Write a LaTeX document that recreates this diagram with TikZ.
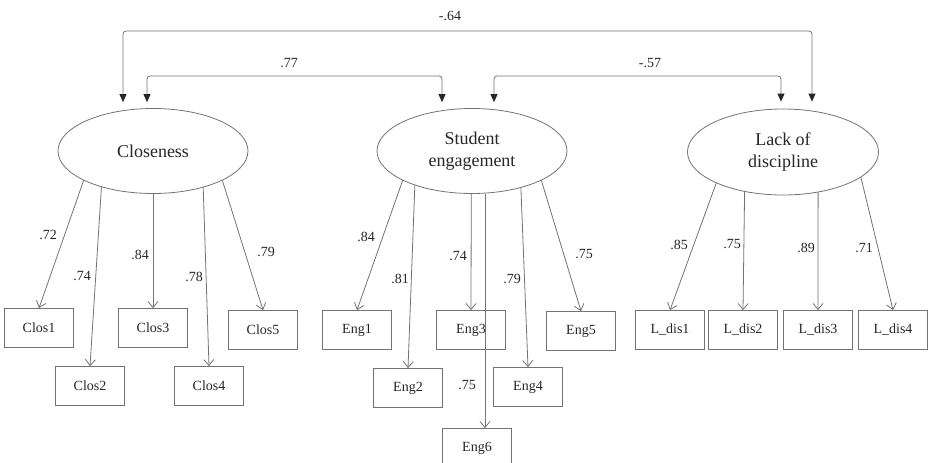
\documentclass[tikz,border=0pt]{standalone}
\usepackage{fontspec}
\setmainfont{Liberation Serif}
\usetikzlibrary{shapes.geometric,arrows.meta}

\begin{document}
\begin{tikzpicture}[x=1pt,y=-1pt,
    latent/.style={ellipse,draw=black!55,line width=0.8pt,minimum width=190pt,minimum height=85pt,inner sep=0pt,align=center,font=\fontsize{18}{22}\selectfont,text=black!85},
    item/.style={rectangle,draw=black!55,line width=0.8pt,minimum width=69pt,minimum height=39pt,inner sep=0pt,font=\fontsize{14}{16}\selectfont,text=black!85},
    load/.style={draw=black!55,line width=0.8pt,-{Straight Barb[length=6pt,width=10pt]}},
    cov/.style={draw=black!55,line width=0.8pt,rounded corners=3pt,{Triangle[width=7pt,length=8pt,color=black!85]}-{Triangle[width=7pt,length=8pt,color=black!85]}},
    coef/.style={font=\fontsize{14}{16}\selectfont,text=black!85,inner sep=0pt}]

    \useasboundingbox (0,0) rectangle (929,463);
    \clip (0,0) rectangle (929,463);

    \node[latent] (clos) at (153,151) {Closeness};
    \node[latent] (eng) at (472,151) {Student\\engagement};
    \node[latent,minimum width=191pt,minimum height=86pt] (lack) at (783,152) {Lack of\\discipline};

    \node[item] (clos1) at (39,328) {Clos1};
    \node[item] (clos2) at (90,386) {Clos2};
    \node[item] (clos3) at (153,328) {Clos3};
    \node[item] (clos4) at (209,386) {Clos4};
    \node[item] (clos5) at (263,330) {Clos5};

    \node[item] (eng1) at (357,330) {Eng1};
    \node[item] (eng2) at (408,388) {Eng2};
    \node[item] (eng3) at (471,330) {Eng3};
    \node[item] (eng4) at (528,387) {Eng4};
    \node[item] (eng5) at (581,331) {Eng5};
    \node[item] (eng6) at (477,448) {Eng6};

    \node[item] (ldis1) at (670,330) {L\_dis1};
    \node[item] (ldis2) at (743,330) {L\_dis2};
    \node[item] (ldis3) at (818,330) {L\_dis3};
    \node[item] (ldis4) at (893,330) {L\_dis4};

    \foreach \a/\b in {203/clos1,215/clos2,270/clos3,324/clos4,337/clos5}
        \draw[load] (clos.\a) -- (\b.north);
    \foreach \a/\b in {203/eng1,211/eng2,269/eng3,323/eng4,337/eng5}
        \draw[load] (eng.\a) -- (\b.north);
    \draw[load] (eng.287) -- (eng.287 |- eng6.north);
    \foreach \a/\b in {205/ldis1,226/ldis2,311/ldis3,342/ldis4}
        \draw[load] (lack.\a) -- (\b.north);

    \coordinate (rowA) at (0,31);
    \coordinate (rowB) at (0,76);
    \coordinate (closA) at ([xshift=-30pt,yshift=6pt]clos.north);
    \coordinate (closB) at ([xshift=-6pt,yshift=6pt]clos.north);
    \coordinate (engB) at ([xshift=-30pt,yshift=6pt]eng.north);
    \coordinate (engC) at ([xshift=22pt,yshift=6pt]eng.north);
    \coordinate (lackC) at ([xshift=-2pt,yshift=7pt]lack.north);
    \coordinate (lackA) at ([xshift=29pt,yshift=7pt]lack.north);

    \draw[cov] (closA) -- (closA |- rowA) -| (lackA);
    \draw[cov] (closB) -- (closB |- rowB) -| (engB);
    \draw[cov] (engC) -- (engC |- rowB) -| (lackC);

    \node[coef] (c64) at (450,16) {-.64};
    \node[coef] (c77) at (289,63) {.77};
    \node[coef] (c57) at (650,63) {-.57};

    \node[coef] (cl1) at (48,235) {.72};
    \node[coef] (cl2) at (82,276) {.74};
    \node[coef] (cl3) at (140,255) {.84};
    \node[coef] (cl4) at (194,277) {.78};
    \node[coef] (cl5) at (266,252) {.79};

    \node[coef] (ce1) at (366,237) {.84};
    \node[coef] (ce2) at (400,279) {.81};
    \node[coef] (ce3) at (458,256) {.74};
    \node[coef] (ce6) at (467,385) {.75};
    \node[coef] (ce4) at (512,279) {.79};
    \node[coef] (ce5) at (584,254) {.75};

    \node[coef] (cd1) at (679,245) {.85};
    \node[coef] (cd2) at (732,244) {.75};
    \node[coef] (cd3) at (806,248) {.89};
    \node[coef] (cd4) at (864,248) {.71};

\end{tikzpicture}
\end{document}
